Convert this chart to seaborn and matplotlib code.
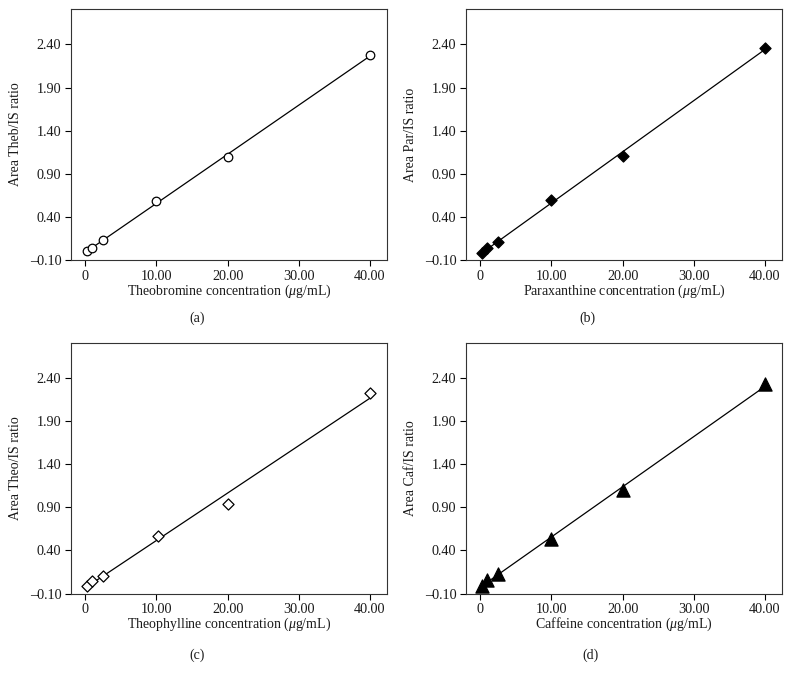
import matplotlib
matplotlib.use("Agg")
import matplotlib.pyplot as plt
import seaborn as sns
import numpy as np
import pandas as pd

# concentrations (ug/mL) and area ratios
conc = [0.25, 1.0, 2.5, 10.0, 20.0, 40.0]
conc_theo = [0.25, 1.0, 2.5, 10.2, 20.05, 40.0]
theb_ratio = [0.0, 0.036, 0.136, 0.587, 1.09, 2.275]
par_ratio = [-0.02, 0.036, 0.106, 0.598, 1.107, 2.356]
theo_ratio = [-0.015, 0.046, 0.108, 0.567, 0.934, 2.22]
caf_ratio = [-0.01, 0.06, 0.128, 0.532, 1.099, 2.325]

y_ticks = [-0.10, 0.40, 0.90, 1.40, 1.90, 2.40]
x_ticks = [0, 10, 20, 30, 40]
x_ticklabels = ["0", "10.00", "20.00", "30.00", "40.00"]

panels = [
    ("Theobromine", "Theb", conc, theb_ratio, "o", "white", 38, "(a)"),
    ("Paraxanthine", "Par", conc, par_ratio, "D", "black", 32, "(b)"),
    ("Theophylline", "Theo", conc_theo, theo_ratio, "D", "white", 32, "(c)"),
    ("Caffeine", "Caf", conc, caf_ratio, "^", "black", 90, "(d)"),
]

sns.set_theme(style="ticks")
plt.rcParams["font.family"] = ["Liberation Serif", "DejaVu Serif"]
plt.rcParams["mathtext.fontset"] = "custom"
plt.rcParams["mathtext.rm"] = "Liberation Serif"
plt.rcParams["mathtext.it"] = "Liberation Serif:italic"
plt.rcParams["axes.unicode_minus"] = True

fig = plt.figure(figsize=(7.9, 6.83), dpi=100)

# axes boxes in figure fractions: left, bottom
boxes = [(0.0899, 0.6193), (0.5899, 0.6193), (0.0899, 0.131), (0.5899, 0.131)]
captions = [(0.249, 0.534), (0.744, 0.534), (0.249, 0.040), (0.747, 0.040)]

for (name, short, xs, ys, mk, fc, size, cap), (l, b), (cx, cy) in zip(panels, boxes, captions):
    ax = fig.add_axes([l, b, 0.40, 0.3675])
    df = pd.DataFrame({"x": xs, "y": ys})
    sns.regplot(data=df, x="x", y="y", ax=ax, scatter=False, ci=None,
                truncate=True, line_kws={"color": "black", "lw": 0.9})
    sns.scatterplot(data=df, x="x", y="y", ax=ax, marker=mk, s=size,
                    facecolor=fc, edgecolor="black", linewidth=0.9, zorder=3)
    ax.set_xlim(-2.0, 42.4)
    ax.set_ylim(-0.10, 2.81)
    ax.set_xticks(x_ticks)
    ax.set_xticklabels(x_ticklabels)
    ax.set_yticks(y_ticks)
    ax.set_yticklabels([f"{v:.2f}".replace("-", "\u2013") for v in y_ticks])
    ax.tick_params(labelsize=10.2, length=4, width=0.8, color="black", pad=3,
                   labelcolor="#1a1a1a")
    for sp in ax.spines.values():
        sp.set_color("#333333")
        sp.set_linewidth(0.8)
    ax.set_xlabel(f"{name} concentration ($\\mu$g/mL)", fontsize=10, color="#1a1a1a")
    ax.set_ylabel(f"Area {short}/IS ratio", fontsize=10, color="#1a1a1a")
    ax.xaxis.set_label_coords(0.5, -0.09)
    ax.yaxis.set_label_coords(-0.155, 0.5)
    fig.text(cx, cy, cap, ha="center", va="center", fontsize=10, color="#1a1a1a")

plt.savefig("out.png", dpi=100)
